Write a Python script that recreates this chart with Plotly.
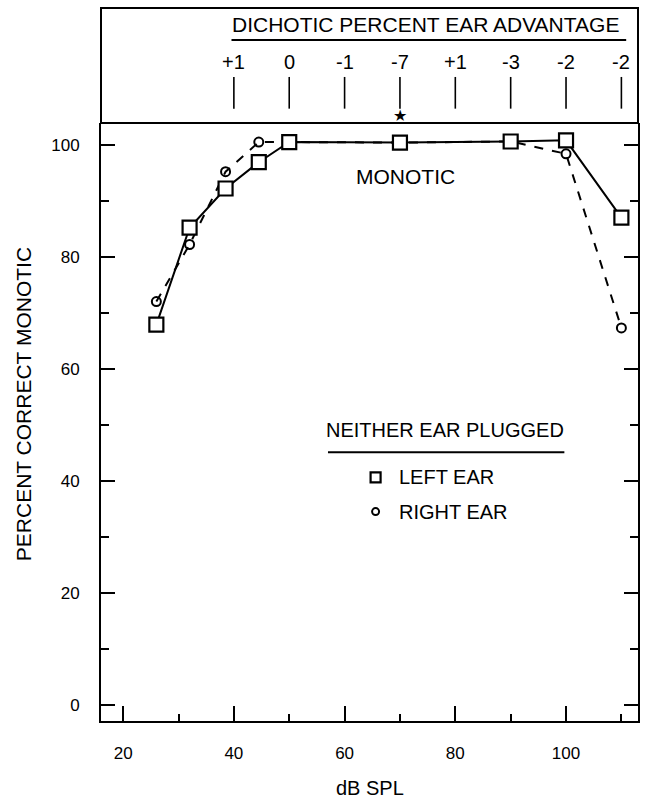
import plotly.graph_objects as go

# ---- data ----
db_levels = [26, 32, 38.5, 44.5, 50, 70, 90, 100, 110]
left_ear = [68, 85.3, 92.3, 97, 100.6, 100.5, 100.7, 100.9, 87.1]
right_db = [26, 32, 38.5, 44.5, 50, 70, 90, 100, 110]
right_ear = [72.1, 82.3, 95.3, 100.6, 100.6, 100.5, 100.7, 98.5, 67.4]

dichotic_db = [40, 50, 60, 70, 80, 90, 100, 110]
dichotic_labels = ["+1", "0", "-1", "-7", "+1", "-3", "-2", "-2"]
star_db = 70

x_major = [20, 40, 60, 80, 100]
x_minor = [30, 50, 70, 90, 110]
x_top = [20, 30, 40, 50, 60, 70, 80, 90, 100, 110]
y_major = [0, 20, 40, 60, 80, 100]
y_minor = [10, 30, 50, 70, 90]

FONT = "Liberation Sans, Arial, Helvetica, sans-serif"

fig = go.Figure()

fig.add_trace(go.Scatter(
    x=right_db, y=right_ear, mode="lines+markers",
    line=dict(color="black", width=2, dash="dash"),
    marker=dict(symbol="circle-open", size=9, color="black", line=dict(width=2)),
    showlegend=False, cliponaxis=False))
fig.add_trace(go.Scatter(
    x=db_levels, y=left_ear, mode="lines+markers",
    line=dict(color="black", width=2),
    marker=dict(symbol="square", size=14, color="white", line=dict(width=2.2, color="black")),
    showlegend=False, cliponaxis=False))

# legend symbols
fig.add_trace(go.Scatter(x=[65.6], y=[40.7], mode="markers",
    marker=dict(symbol="square", size=10, color="white", line=dict(width=2.2, color="black")),
    showlegend=False))
fig.add_trace(go.Scatter(x=[65.6], y=[34.6], mode="markers",
    marker=dict(symbol="circle-open", size=7, color="black", line=dict(width=2)),
    showlegend=False))

# top box
fig.add_shape(type="rect", xref="paper", yref="paper", x0=0, x1=1, y0=1, y1=1.1923,
              line=dict(color="black", width=2), fillcolor="rgba(0,0,0,0)", layer="below")
# title underline
fig.add_shape(type="line", xref="paper", yref="paper", x0=0.243, x1=0.978, y0=1.139, y1=1.139,
              line=dict(color="black", width=2))
fig.add_annotation(text="DICHOTIC PERCENT EAR ADVANTAGE", xref="paper", yref="paper",
                   x=0.605, y=1.165, yanchor="middle", showarrow=False,
                   font=dict(family=FONT, size=21, color="black"))
for xv, lab in zip(dichotic_db, dichotic_labels):
    fig.add_shape(type="line", xref="x", yref="paper", x0=xv, x1=xv, y0=1.024, y1=1.077,
                  line=dict(color="black", width=1.6))
    fig.add_annotation(text=lab, xref="x", yref="paper", x=xv, y=1.102, yanchor="middle",
                       showarrow=False, font=dict(family=FONT, size=20, color="black"))
# star marking the -7 condition
fig.add_annotation(text="★", xref="x", yref="paper", x=star_db, y=1.0125, yanchor="middle",
                   showarrow=False, font=dict(family="DejaVu Sans", size=16, color="black"))

# in-plot texts
fig.add_annotation(text="MONOTIC", x=71, y=94.5, yanchor="middle", showarrow=False,
                   font=dict(family=FONT, size=21, color="black"))
fig.add_annotation(text="NEITHER EAR PLUGGED", x=78.2, y=49.1, yanchor="middle", showarrow=False,
                   font=dict(family=FONT, size=20, color="black"))
fig.add_shape(type="line", xref="x", yref="y", x0=57.0, x1=99.7, y0=45.2, y1=45.2,
              line=dict(color="black", width=2))
fig.add_annotation(text="LEFT EAR", x=69.4, y=40.7, xanchor="left", yanchor="middle",
                   showarrow=False, font=dict(family=FONT, size=20, color="black"))
fig.add_annotation(text="RIGHT EAR", x=69.4, y=34.6, xanchor="left", yanchor="middle",
                   showarrow=False, font=dict(family=FONT, size=20, color="black"))

# axis titles
fig.add_annotation(text="dB SPL", xref="paper", yref="paper", x=0.5, y=-0.112, yanchor="middle",
                   showarrow=False, font=dict(family=FONT, size=20, color="black"))
fig.add_annotation(text="PERCENT CORRECT MONOTIC", xref="paper", yref="paper", x=-0.145, y=0.53,
                   xanchor="center", yanchor="middle",
                   textangle=-90, showarrow=False, font=dict(family=FONT, size=21, color="black"))

fig.update_layout(
    width=646, height=798,
    margin=dict(l=101, r=6, t=123, b=77),
    paper_bgcolor="white", plot_bgcolor="white",
    font=dict(family=FONT, color="black"),
    xaxis=dict(range=[16, 113], showline=True, linewidth=2, linecolor="black",
               ticks="inside", tickvals=x_major, ticklen=15, tickwidth=2, tickcolor="black",
               minor=dict(tickvals=x_minor, ticks="inside", ticklen=7, tickwidth=2, tickcolor="black"),
               showgrid=False, zeroline=False, tickfont=dict(size=17, family=FONT),
               ticklabelstandoff=16),
    xaxis2=dict(range=[16, 113], overlaying="x", side="top", anchor="y",
                showline=True, linewidth=2, linecolor="black",
                ticks="inside", tickvals=x_top, ticklen=8, tickwidth=2, tickcolor="black",
                showticklabels=False, showgrid=False, zeroline=False),
    yaxis=dict(range=[-2.8, 104], showline=True, linewidth=2, linecolor="black", mirror="ticks",
               ticks="inside", tickvals=y_major, ticklen=14, tickwidth=2, tickcolor="black",
               minor=dict(tickvals=y_minor, ticks="inside", ticklen=8, tickwidth=2, tickcolor="black"),
               showgrid=False, zeroline=False, tickfont=dict(size=17, family=FONT),
               ticklabelstandoff=16),
)

fig.write_html("out.html")
